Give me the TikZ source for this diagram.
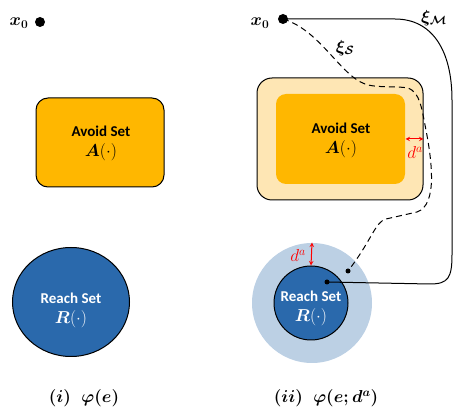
\documentclass[tikz,border=0pt]{standalone}
\usepackage{amsmath}
\usepackage{amssymb}
\usepackage{bm}
\usepackage{fontspec}
\newfontfamily\carlito{Carlito}
\usepackage{tikz}
\usetikzlibrary{shapes.geometric}
\definecolor{avoid}{HTML}{FFB700}
\definecolor{avoidpad}{HTML}{FEE6B4}
\definecolor{reach}{HTML}{2A69AC}
\definecolor{reachpad}{HTML}{BCD0E4}
\newcommand{\setmath}[1]{{\fontsize{17.28}{20}\selectfont$\bm{#1}(\cdot)$}}
\tikzset{
  setlabel/.style={font=\carlito\bfseries\fontsize{15}{20}\selectfont, align=center},
  mathlabel/.style={font=\fontsize{17.28}{20}\selectfont\boldmath},
  start/.style={circle, fill=black, inner sep=0pt, minimum size=10pt},
  stop/.style={circle, fill=black, inner sep=0pt, minimum size=5pt},
  gap/.style={red, <->, >=stealth, line width=1pt},
  gaplabel/.style={red, font=\fontsize{17.28}{20}\selectfont},
}

\begin{document}
\begin{tikzpicture}
  [x=1pt, y=-1pt, line width=1pt]
  \useasboundingbox (0,0) rectangle (467,417);

  \node[mathlabel] (x0L) at (19,23) {$\bm{x_0}$};
  \node[start] (s1) at (40,22) {};
  \node[draw, fill=avoid, rounded corners=12pt, minimum width=128pt, minimum height=89pt] (avoidL) at (100,142.5) {};
  \node[setlabel] (avoidLtxt) at (101,143) {Avoid Set\\\setmath{A}};
  \node[ellipse, draw, fill=reach, minimum width=117pt, minimum height=109pt] (reachL) at (71,302) {};
  \node[setlabel, text=white] (reachLtxt) at (71,310) {Reach Set\\\setmath{R}};
  \node[mathlabel] (capL) at (84,398) {$\bm{(i)\ \ \varphi(e)}$};

  \node[mathlabel] (x0R) at (260,23) {$\bm{x_0}$};
  \node[draw, fill=avoidpad, rounded corners=15pt, minimum width=166pt, minimum height=122pt] (padR) at (340,139) {};
  \node[fill=avoid, rounded corners=10pt, minimum width=129pt, minimum height=90pt] (avoidR) at (340.5,139) {};
  \node[setlabel] (avoidRtxt) at (341,140) {Avoid Set\\\setmath{A}};
  \draw[gap] (avoidR.east) -- (padR.east);
  \node[gaplabel] (daA) at (415,153) {$d^a$};
  \node[circle, fill=reachpad, minimum size=120pt] (padC) at (312,303) {};
  \node[circle, draw, fill=reach, minimum size=74pt] (reachR) at (311,303) {};
  \node[setlabel, text=white] (reachRtxt) at (311,308) {Reach Set\\\setmath{R}};
  \draw[gap] (padC.north) -- (reachR.north);
  \node[gaplabel] (daR) at (298,256) {$d^a$};
  \node[stop] (endM) at (327,282) {};
  \node[stop] (endS) at (348,271) {};
  \node[start] (s2) at (283,19) {};
  \draw (s2.center) -- (395,19) .. controls (432,19) and (452,50) .. (452,100)
    -- (452,255) .. controls (452,278) and (448,284) .. (430,284) -- (endM.center);
  \draw[dash pattern=on 6pt off 4pt] (s2.center) .. controls (320,30) and (340,75) .. (365,84)
    .. controls (375,88) and (398,86) .. (408,88)
    .. controls (420,92) and (422,110) .. (425,125)
    .. controls (432,160) and (438,205) .. (417,212)
    -- (386,219) .. controls (375,222) and (372,240) .. (endS.center);
  \node[mathlabel] (xiM) at (434,18) {$\bm{\xi_{\mathcal{M}}}$};
  \node[mathlabel] (xiS) at (345,48) {$\bm{\xi_{\mathcal{S}}}$};
  \node[mathlabel] (capR) at (326,398) {$\bm{(ii)\ \ \varphi(e;d^a)}$};
\end{tikzpicture}
\end{document}
